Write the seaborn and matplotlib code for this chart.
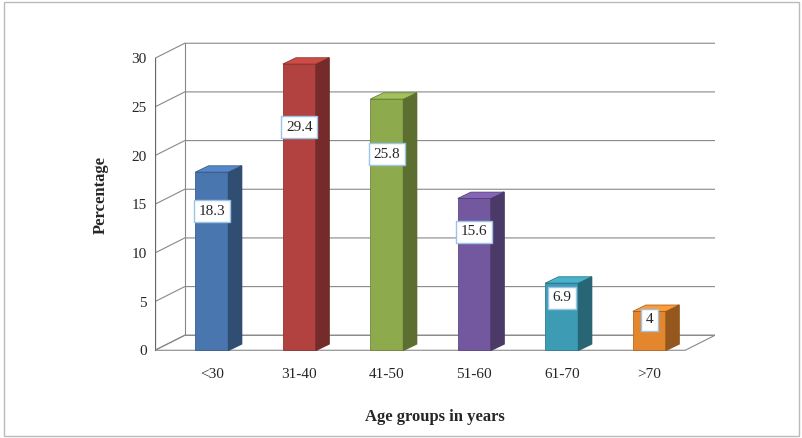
import matplotlib
matplotlib.use("Agg")
import matplotlib.pyplot as plt
import seaborn as sns
import pandas as pd
from matplotlib.patches import Polygon, Rectangle
import matplotlib.colors as mc

groups = ["<30", "31-40", "41-50", "51-60", "61-70", ">70"]
percent = [18.3, 29.4, 25.8, 15.6, 6.9, 4.0]
labels = ["18.3", "29.4", "25.8", "15.6", "6.9", "4"]
colors = ["#4A76B0", "#B2423F", "#8DAA4C", "#74589F", "#3D9CB4", "#E3862E"]

sns.set_theme(style="white")
plt.rcParams["font.family"] = ["Liberation Serif", "DejaVu Serif"]

fig = plt.figure(figsize=(8.03, 4.38), dpi=100)
fig.patches.append(Rectangle((0.005, 0.005), 0.99, 0.99, transform=fig.transFigure,
                             fill=False, edgecolor="#BBBBBB", lw=1))
ax = fig.add_axes([155 / 803, 1 - 360 / 438, 560 / 803, 330 / 438])
df = pd.DataFrame({"g": groups, "v": percent})
sns.barplot(data=df, x="g", y="v", hue="g", palette=colors, width=0.38,
            legend=False, ax=ax, zorder=3, saturation=1)

dx, dy = 0.34, 1.54     # back-wall depth
bx, by = 0.15, 0.65     # bar depth
x0, x1 = -0.65, 5.75
ax.set_xlim(x0, x1)
ax.set_ylim(-1.0, 32.9)

# back wall gridlines + floor
for t in range(0, 31, 5):
    ax.plot([x0, x0 + dx, x1], [t, t + dy, t + dy], color="#888888", lw=0.8, zorder=1)
ax.plot([x0 + dx, x0 + dx], [dy, 30 + dy], color="#888888", lw=0.8, zorder=1)
ax.plot([x0, x0], [0, 30], color="#666666", lw=0.9, zorder=1)
ax.add_patch(Polygon([[x0, 0], [x1 - dx, 0], [x1, dy], [x0 + dx, dy]], closed=True,
                     fill=False, edgecolor="#888888", lw=0.8, zorder=1))
for t in range(0, 31, 5):
    ax.plot([x0 - 0.05, x0], [t, t], color="#666666", lw=0.8)

for p, c, lab, v in zip(ax.patches, colors, labels, percent):
    xl, w, h = p.get_x(), p.get_width(), p.get_height()
    xr = xl + w
    p.set_edgecolor(mc.to_hex([k * 0.8 for k in mc.to_rgb(c)]))
    p.set_linewidth(0.6)
    side = [k * 0.65 for k in mc.to_rgb(c)]
    top = [min(1, k * 1.15) for k in mc.to_rgb(c)]
    ax.add_patch(Polygon([[xr, 0], [xr + bx, by], [xr + bx, h + by], [xr, h]],
                         closed=True, facecolor=side, edgecolor=side, zorder=3))
    ax.add_patch(Polygon([[xl, h], [xr, h], [xr + bx, h + by], [xl + bx, h + by]],
                         closed=True, facecolor=top, edgecolor=side, lw=0.5, zorder=3))
    ax.text(xl + w / 2, v * 0.78, lab, ha="center", va="center", fontsize=11, zorder=5,
            bbox=dict(boxstyle="square,pad=0.3", facecolor="white", edgecolor="#9CC3E8", lw=1))

ax.set_yticks(range(0, 31, 5))
ax.set_xticks(range(6))
ax.set_xticklabels(groups)
ax.tick_params(axis="both", labelsize=11, length=0, pad=6)
ax.set_xlabel("Age groups in years", fontsize=12, fontweight="bold", labelpad=20)
ax.set_ylabel("Percentage", fontsize=12, fontweight="bold", labelpad=16)
for s in ax.spines.values():
    s.set_visible(False)
ax.set_facecolor("none")

fig.savefig("out.png", dpi=100)
